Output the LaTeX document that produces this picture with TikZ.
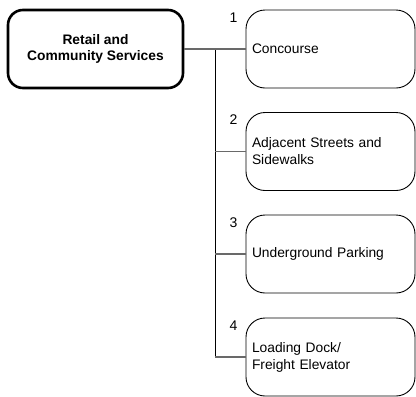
\documentclass[tikz,border=0pt]{standalone}
\usepackage{fontspec}
\setmainfont{Liberation Sans}
\begin{document}
\begin{tikzpicture}[x=1pt,y=-1pt,
  mainbox/.style={draw=black, line width=2.6pt, rounded corners=15pt,
    minimum width=175pt, minimum height=78pt, align=center,
    font=\fontsize{13.8}{16}\selectfont\bfseries, inner sep=0pt},
  childbox/.style={draw=black, line width=0.9pt, rounded corners=19pt,
    minimum height=78pt, text width=157pt, inner xsep=6pt, inner ysep=0pt, align=left,
    font=\fontsize{13.8}{17}\selectfont},
  numlabel/.style={font=\fontsize{14}{16}\selectfont, inner sep=0pt},
  branch/.style={draw={rgb,255:red,105;green,105;blue,105}, line width=1.2pt},
  trunk/.style={draw=black, line width=1pt}]
\useasboundingbox (0,0) rectangle (416,397);
\node[mainbox] (main) at (95.5,49) {Retail and\\Community Services};
\node[childbox] (c1) at (330.5,49) {Concourse};
\node[childbox] (c2) at (330.5,151.5) {Adjacent Streets and\\Sidewalks};
\node[childbox] (c3) at (330.5,254) {Underground Parking};
\node[childbox] (c4) at (330.5,357) {Loading Dock/\\Freight Elevator};
\node[numlabel] (n1) at ([shift={(-12,8)}]c1.north west) {1};
\node[numlabel] (n2) at ([shift={(-12,8)}]c2.north west) {2};
\node[numlabel] (n3) at ([shift={(-12,8)}]c3.north west) {3};
\node[numlabel] (n4) at ([shift={(-12,8)}]c4.north west) {4};
\coordinate (j) at (215,49);
\draw[trunk] (j) -- (j |- c4.west);
\draw[branch] (main.east) -- (c1.west);
\draw[branch] (j |- c2.west) -- (c2.west);
\draw[branch] (j |- c3.west) -- (c3.west);
\draw[branch] (j |- c4.west) -- (c4.west);
\end{tikzpicture}
\end{document}
